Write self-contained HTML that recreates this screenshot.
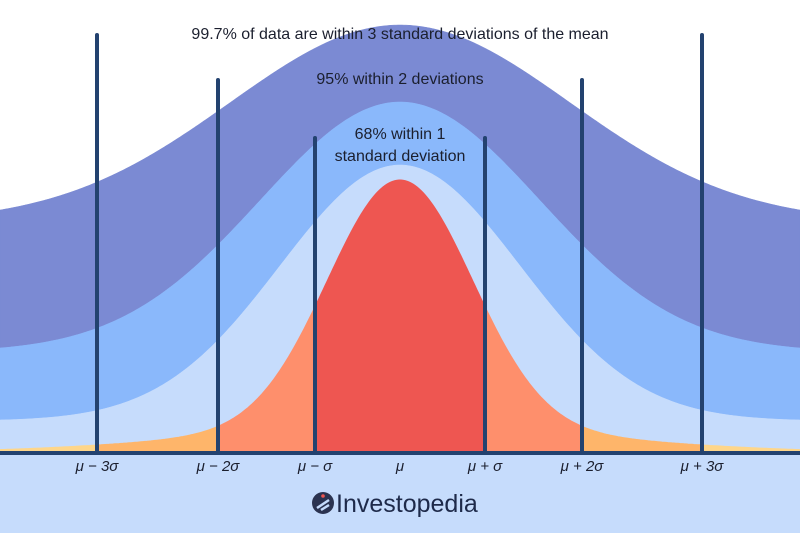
<!DOCTYPE html>
<html><head><meta charset="utf-8"><style>
html,body{margin:0;padding:0;background:#fff}
svg{display:block}
text{font-family:"Liberation Sans","DejaVu Sans",sans-serif}
</style></head><body>
<svg id="chart" width="800" height="533" viewBox="0 0 800 533" xmlns="http://www.w3.org/2000/svg">
<rect x="0" y="0" width="800" height="533" fill="#ffffff"/>
<g id="bands"></g>
<g id="dens"></g>
<g id="lines"></g>
<rect x="0" y="455" width="800" height="78" fill="#c6dcfc"/>
<rect x="0" y="451" width="800" height="4" fill="#23426f"/>
<g id="ticks"></g>
<text x="400" y="39" text-anchor="middle" font-size="16" fill="#1b1f2e">99.7% of data are within 3 standard deviations of the mean</text>
<text x="400" y="84" text-anchor="middle" font-size="16" fill="#1b1f2e">95% within 2 deviations</text>
<text x="400" y="139" text-anchor="middle" font-size="16" fill="#1b1f2e">68% within 1</text>
<text x="400" y="161" text-anchor="middle" font-size="16" fill="#1b1f2e">standard deviation</text>
<g>
<circle cx="323" cy="503" r="11" fill="#2b3350"/>
<path d="M317 508 L329 500 M321 510 L329 505" stroke="#c6dcfc" stroke-width="2.5" fill="none"/>
<circle cx="323" cy="496" r="1.8" fill="#ee5651"/>
<text x="336" y="512" font-size="25" fill="#1e2a4a">Investopedia</text>
</g>
</svg>
<script>
const sigmaMultiples = [-3, -2, -1, 0, 1, 2, 3];
const tickLabels = ["μ − 3σ", "μ − 2σ", "μ − σ", "μ", "μ + σ", "μ + 2σ", "μ + 3σ"];
const lineMultiples = [-3, -2, -1, 1, 2, 3];
const lineTops = [35, 80, 138, 138, 80, 35];
const bandPercents = [99.7, 95, 68];
const regionColors = ["#fed68a", "#feb56a", "#fe8f6c", "#ee5651"];

const sDom = [-4.13, -3, -2, -1, 0, 1, 2, 3, 4.13];
const sRng = [0, 97, 218, 315, 400, 485, 582, 702, 800];
function xScale(k){
  for(let i=0;i<sDom.length-1;i++){
    if(k<=sDom[i+1]||i===sDom.length-2){
      const t=(k-sDom[i])/(sDom[i+1]-sDom[i]);
      return sRng[i]+t*(sRng[i+1]-sRng[i]);
    }
  }
}
const NS='http://www.w3.org/2000/svg';
const base=453;
function g(dx,w){return Math.exp(-dx*dx/(2*w*w));}
function bandCurve(peak,edge,w){
  const a=(edge-peak)/(1-g(400,w)); const b=peak+a;
  return x=>b-a*g(x-400,w);
}
const c1=bandCurve(25,210,170), c2=bandCurve(102,348,140), c3=bandCurve(165,420,120);
function dens(x){const dx=x-400;return base-248*g(dx,72)-25*g(dx,200);}
function areaPath(top,bottom,x0,x1){
  let d='';
  for(let x=x0;x<=x1;x+=2)d+=(d?'L':'M')+x+' '+top(x).toFixed(1);
  d+='L'+x1+' '+top(x1).toFixed(1);
  for(let x=x1;x>=x0;x-=2)d+='L'+x+' '+bottom(x).toFixed(1);
  d+='L'+x0+' '+bottom(x0).toFixed(1);
  return d+'Z';
}
function add(parent,tag,attrs){const e=document.createElementNS(NS,tag);for(const k in attrs)e.setAttribute(k,attrs[k]);parent.appendChild(e);return e;}
const bands=document.getElementById('bands');
const bandDefs=[[c1,c2,'#7b8ad3'],[c2,c3,'#8ab8fb'],[c3,()=>base,'#c6dcfc']];
bandDefs.forEach((b,i)=>{
  const p=add(bands,'path',{d:areaPath(b[0],b[1],0,800),fill:b[2],stroke:b[2],'stroke-width':0.5});
  
  
});
const densG=document.getElementById('dens');
const edges=[[-4.13,-3,0],[-3,-2,1],[-2,-1,2],[-1,1,3],[1,2,2],[2,3,1],[3,4.13,0]];
edges.forEach((r,i)=>{
  const x0=Math.round(xScale(r[0])),x1=Math.round(xScale(r[1]));
  const p=add(densG,'path',{d:areaPath(dens,()=>base,x0,x1),fill:regionColors[r[2]],stroke:regionColors[r[2]],'stroke-width':1});
  
  
});
const linesG=document.getElementById('lines');
lineMultiples.forEach((k,i)=>{
  const x=xScale(k);
  const l=add(linesG,'line',{x1:x,x2:x,y1:lineTops[i],y2:base,stroke:'#23426f','stroke-width':4,'stroke-linecap':'round'});
  
  
});
const ticksG=document.getElementById('ticks');
sigmaMultiples.forEach((k,i)=>{
  const t=add(ticksG,'text',{x:xScale(k),y:471,'text-anchor':'middle','font-size':15,'font-style':'italic',fill:'#1b1f2e'});
  t.textContent=tickLabels[i];
  
  
});
</script>
</body></html>
